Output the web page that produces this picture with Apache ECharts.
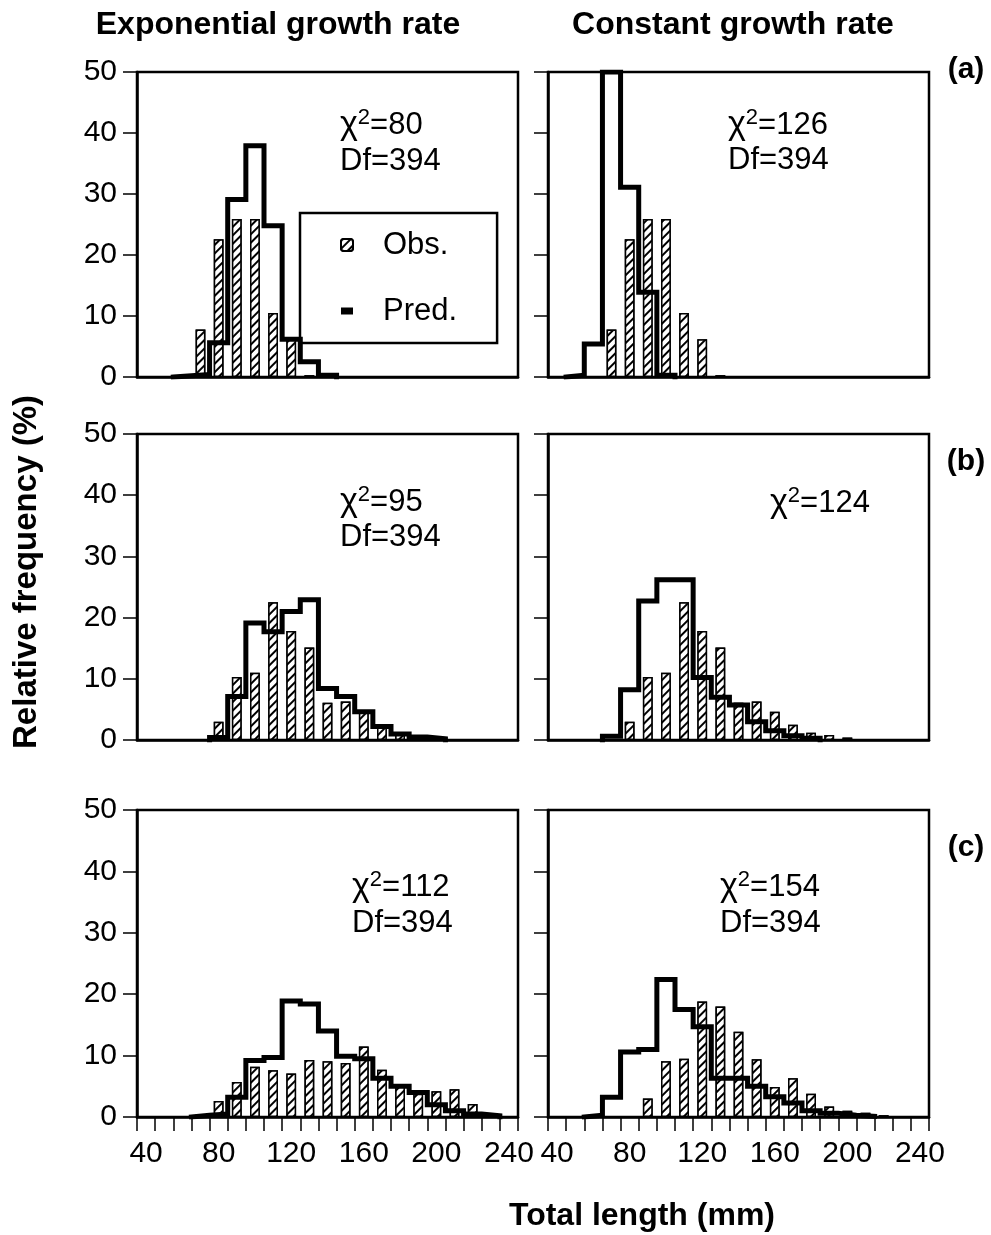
<!DOCTYPE html>
<html><head><meta charset="utf-8">
<script src="https://cdn.jsdelivr.net/npm/echarts@6/dist/echarts.min.js"></script>
<style>html,body{margin:0;padding:0;background:#fff}#c{width:991px;height:1235px}</style>
</head><body><div id="c"></div>
<script>
// ---- data (bin centres in mm, relative frequency in %) ----
const categories = ['40','50','60','70','80','90','100','110','120','130','140','150','160','170','180','190','200','210','220','230','240'];
const yTicks = [0, 10, 20, 30, 40, 50];

const obsA       = [null,null,null,7.8,22.6,25.9,25.9,10.5,6.2,0.3,null,null,null,null,null,null,null,null,null,null,null];
const predAExp   = [null,null,0.2,0.4,5.6,29.1,37.9,24.8,6.2,2.5,0.3,null,null,null,null,null,null,null,null,null,null];
const predAConst = [null,0.3,5.4,50,31.1,13.9,0.3,null,null,null,null,null,null,null,null,null,null,null,null,null,null];

const obsB       = [null,null,null,null,3.0,10.3,11.0,22.5,17.8,15.1,6.1,6.3,4.6,2.5,1.2,0.8,0.4,null,null,null,null];
const predBExp   = [null,null,null,null,0.4,7.1,19.1,17.7,21.0,22.9,8.4,7.1,4.6,2.2,1.0,0.5,0.2,null,null,null,null];
const predBConst = [null,null,null,0.6,8.2,22.7,26.2,26.2,10.2,7.0,5.7,3.0,1.5,0.7,0.3,null,null,null,null,null,null];

const obsCExp    = [null,null,null,0.4,2.6,5.7,8.2,7.6,7.1,9.3,9.1,8.8,11.5,7.7,5.3,3.8,4.2,4.5,2.1,null,null];
const predCExp   = [null,null,null,0.3,0.5,3.2,9.2,9.7,18.9,18.4,14.0,9.9,9.5,6.3,5.0,4.0,2.0,1.0,0.5,0.2,null];
const obsCConst  = [null,null,null,null,null,3.0,9.1,9.5,18.8,18.0,13.9,9.4,4.9,6.3,3.8,1.7,1.0,0.7,0.3,null,null];
const predCConst = [null,null,0.3,3.2,10.6,11.0,22.4,17.5,14.7,6.3,6.3,5.0,3.3,2.3,1.0,0.6,0.3,0.1,null,null,null];

const chiValues = ['80','126','95','124','112','154'];
const dfValues  = ['394','394','394',null,'394','394'];
const columnTitles = ['Exponential growth rate', 'Constant growth rate'];
const rowLabels = ['(a)', '(b)', '(c)'];
const legendNames = ['Obs.', 'Pred.'];

// ---- layout ----
const FONT = "'Liberation Sans', Arial, Helvetica, sans-serif";
const colLeft = [137, 548], colW = 381;
const rowTop = [72, 434, 810], rowH = [305, 306, 307];
const titleX = [278, 733];
const rowLabelY = [70, 462, 848];
const chiPos = [[340,125,161],[728,125,160],[340,502,537],[770,503,0],[352,887,923],[720,887,923]];

const panels = [
  [obsA, predAExp], [obsA, predAConst],
  [obsB, predBExp], [obsB, predBConst],
  [obsCExp, predCExp], [obsCConst, predCConst]
];

const halfBin = (+categories[1] - +categories[0]) / 2;
function stepPoints(pred) {
  let first = -1, last = -1;
  pred.forEach((v, i) => { if (v != null) { if (first < 0) first = i; last = i; } });
  const pts = [[+categories[first] - halfBin, 0]];
  for (let i = first; i <= last; i++) {
    const c = +categories[i], v = pred[i] == null ? 0 : pred[i];
    pts.push([c - halfBin, v], [c + halfBin, v]);
  }
  pts.push([+categories[last] + halfBin, 0]);
  return pts;
}

const hatch = {
  symbol: 'rect', symbolSize: 1,
  dashArrayX: [1, 0], dashArrayY: [1.4, 3.6],
  rotation: -Math.PI / 4, color: '#000', backgroundColor: '#fff'
};

const grid = [], xAxis = [], yAxis = [], series = [];
panels.forEach((p, i) => {
  const r = Math.floor(i / 2), c = i % 2;
  grid.push({ left: colLeft[c], top: rowTop[r], width: colW, height: rowH[r],
    show: true, borderColor: '#000', borderWidth: 2.5, backgroundColor: 'transparent' });
  xAxis.push({ type: 'category', gridIndex: i, data: categories, boundaryGap: true,
    axisLine: { show: true, lineStyle: { color: '#000', width: 2.5 } },
    axisTick: { show: r === 2, interval: 0, length: 14, lineStyle: { color: '#000', width: 1.5 } },
    axisLabel: { show: r === 2, interval: 3, fontSize: 30, color: '#000', fontFamily: FONT, margin: 22 },
    splitLine: { show: false } });
  xAxis.push({ type: 'value', gridIndex: i, min: 35, max: 245, show: false });
  yAxis.push({ type: 'value', gridIndex: i, min: yTicks[0], max: yTicks[yTicks.length - 1], interval: 10,
    axisLine: { show: true, lineStyle: { color: '#000', width: 2.5 } },
    axisTick: { show: true, length: 14, lineStyle: { color: '#000', width: 1.5 } },
    axisLabel: { show: c === 0, fontSize: 30, color: '#000', fontFamily: FONT, margin: 20 },
    splitLine: { show: false } });
  series.push({ type: 'bar', name: legendNames[0], xAxisIndex: 2 * i, yAxisIndex: i,
    data: p[0], barWidth: '54%', z: 2,
    itemStyle: { color: '#fff', borderColor: '#000', borderWidth: 1.5, decal: hatch } });
  series.push({ type: 'line', name: legendNames[1], xAxisIndex: 2 * i + 1, yAxisIndex: i,
    data: stepPoints(p[1]), symbol: 'none', showSymbol: false, z: 5,
    lineStyle: { color: '#000', width: 5, join: 'miter', cap: 'square' },
    itemStyle: { color: '#000' } });
});

const graphic = [];
columnTitles.forEach((t, c) => graphic.push({ type: 'text', x: titleX[c], y: 25,
  style: { text: t, font: 'bold 32px ' + FONT, fill: '#000', textAlign: 'center', textVerticalAlign: 'middle' } }));
rowLabels.forEach((t, r) => graphic.push({ type: 'text', x: 966, y: rowLabelY[r],
  style: { text: t, font: 'bold 30px ' + FONT, fill: '#000', textAlign: 'center', textVerticalAlign: 'middle' } }));
graphic.push({ type: 'text', x: 27, y: 572, rotation: Math.PI / 2,
  style: { text: 'Relative frequency (%)', font: 'bold 33px ' + FONT, fill: '#000', textAlign: 'center', textVerticalAlign: 'middle' } });
graphic.push({ type: 'text', x: 642, y: 1216,
  style: { text: 'Total length (mm)', font: 'bold 32px ' + FONT, fill: '#000', textAlign: 'center', textVerticalAlign: 'middle' } });
chiValues.forEach((v, i) => {
  const [x, y1, y2] = chiPos[i];
  graphic.push({ type: 'text', x: x, y: y1, z: 10,
    style: { text: '{g|χ}{s|2}{n|=' + v + '}', textAlign: 'left', textVerticalAlign: 'middle', fill: '#000',
      rich: { g: { fontSize: 34, fontFamily: FONT, lineHeight: 36 },
              s: { fontSize: 22, fontFamily: FONT, lineHeight: 14, verticalAlign: 'top' },
              n: { fontSize: 31, fontFamily: FONT, lineHeight: 36 } } } });
  if (dfValues[i]) graphic.push({ type: 'text', x: x, y: y2, z: 10,
    style: { text: 'Df=' + dfValues[i], font: '31px ' + FONT, fill: '#000', textAlign: 'left', textVerticalAlign: 'middle' } });
});

const option = {
  animation: false,
  backgroundColor: '#fff',
  grid, xAxis, yAxis, series, graphic,
  legend: {
    left: 300, top: 213, orient: 'vertical', selectedMode: false,
    borderColor: '#000', borderWidth: 2.5, padding: [15, 40, 15, 40], itemGap: 32,
    itemWidth: 12, itemHeight: 12,
    textStyle: { fontSize: 31, fontFamily: FONT, color: '#000', lineHeight: 34, padding: [0, 0, 0, 25] },
    data: [
      { name: legendNames[0] },
      { name: legendNames[1], icon: 'path://M0 0H12V7H0Z', itemStyle: { color: '#000', borderWidth: 0 } }
    ]
  }
};
const chart = echarts.init(document.getElementById('c'), null, { renderer: 'canvas' });
chart.setOption(option);
</script></body></html>
